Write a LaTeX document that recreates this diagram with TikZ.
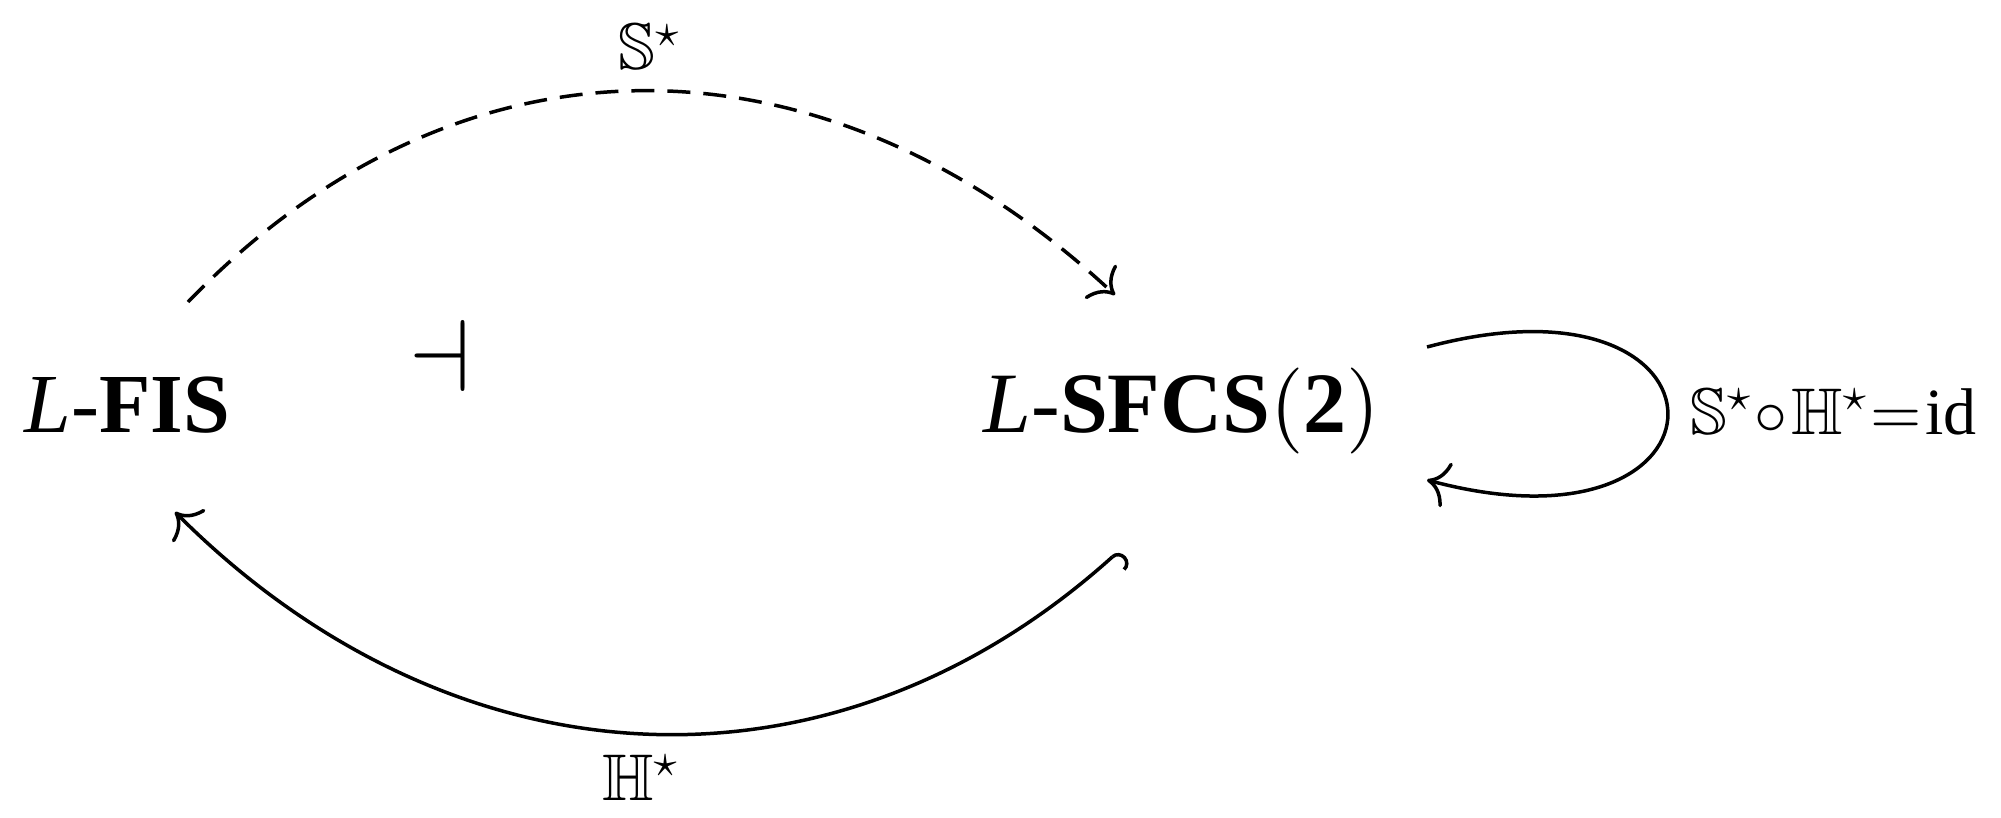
\documentclass[tikz,border=0pt]{standalone}
\DeclareFontShape{OT1}{cmr}{m}{n}{<->cmr10}{}
\DeclareFontShape{OML}{cmm}{m}{it}{<->cmmi10}{\skewchar\font'177}
\DeclareFontShape{OMS}{cmsy}{m}{n}{<->cmsy10}{\skewchar\font'60}
\DeclareFontShape{OMX}{cmex}{m}{n}{<->cmex10}{}
\usepackage{fontspec}
\setmainfont{Liberation Serif}
\usepackage{amssymb}
\usepackage{graphicx}
\usetikzlibrary{arrows.meta}
\begin{document}
\begin{tikzpicture}[x=0.5pt,y=0.5pt,
  obj/.style={inner sep=0pt, anchor=base, font=\fontsize{42}{50}\selectfont},
  lab/.style={inner sep=0pt, anchor=base, font=\fontsize{33}{40}\selectfont},
  cd/.style={line width=1.75pt},
  cdarrow/.style={-{Computer Modern Rightarrow[length=10.5pt,width=23pt]}},
  cdhook/.style={{Hooks[right,length=5pt,width=19pt]}-{Computer Modern Rightarrow[length=10.5pt,width=23pt]}},
  cddash/.style={dash pattern=on 11.5pt off 6.5pt}
]
\useasboundingbox (0,0) rectangle (2001,-818);
\node[obj] (fis) at (127.5,-432) {\textit{L}-\textbf{FIS}};
\node[obj] (sfcs) at (1182,-432) {\fontsize{43}{50}\selectfont\textit{L}-\textbf{SFCS}$($\textbf{2}$)$};
\node[inner sep=0pt, font=\fontsize{40}{48}\selectfont] (adj) at (440,-356) {\scalebox{1.25}[1.28]{$\dashv$}};
\node[lab] (s) at (649,-70) {$\mathbb{S}^{\star}$};
\node[lab] (h) at (640,-800) {$\mathbb{H}^{\star}$};
\node[lab, anchor=base west] (id) at (1690,-434) {$\mathbb{S}^{\star}\mkern1mu{\circ}\mkern1mu\mathbb{H}^{\star}\mkern1mu{=}\mkern1mu\mathrm{id}$};
\draw[cd, cdarrow, cddash] ([shift={(60.5,130)}]fis.base) to[out=46,in=137,distance=197.5pt] ([shift={(-67,137)}]sfcs.base);
\draw[cd, cdhook] ([shift={(-62,-118)}]sfcs.base) to[out=222,in=-45,distance=195.5pt] ([shift={(47.5,-80)}]fis.base);
\draw[cd, cdarrow] ([shift={(245,85)}]sfcs.base) to[out=15,in=-15,distance=166pt] ([shift={(245,-48)}]sfcs.base);
\end{tikzpicture}
\end{document}
